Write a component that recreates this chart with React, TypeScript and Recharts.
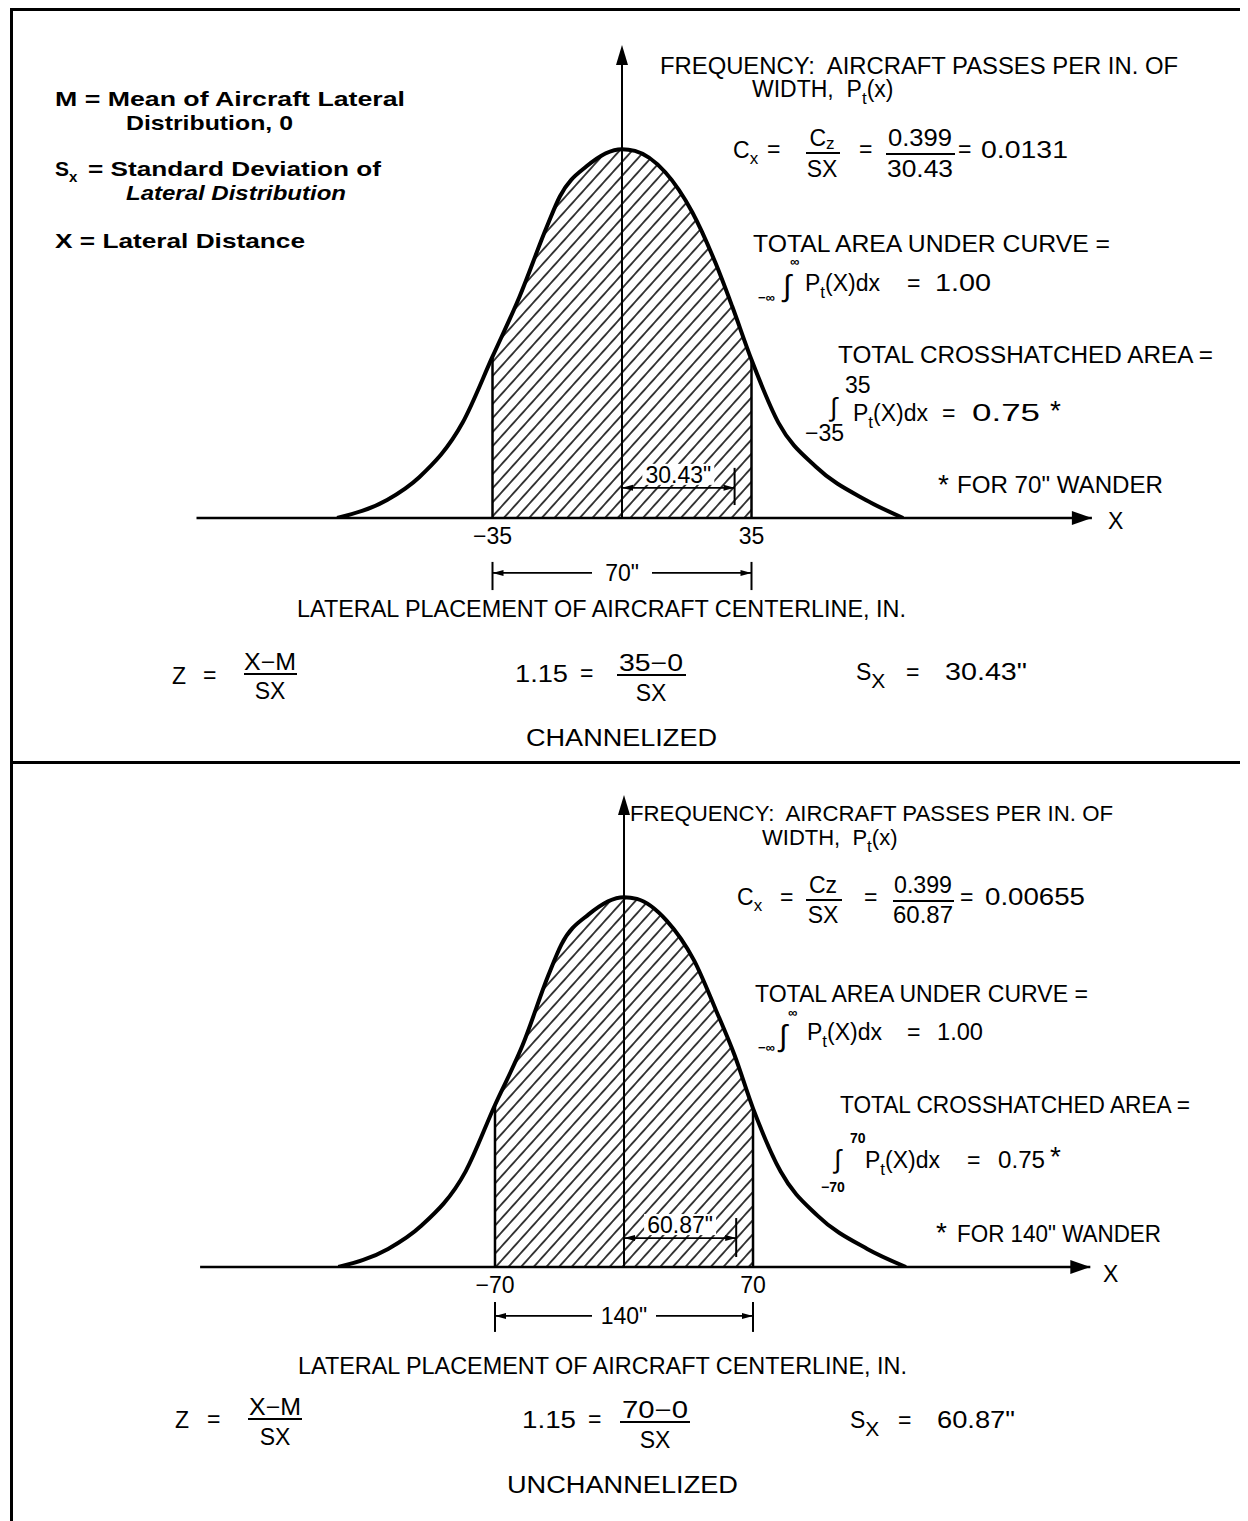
import React from 'react';
import {
  ComposedChart,
  Line,
  Area,
  XAxis,
  YAxis,
  ReferenceLine,
  ReferenceDot,
  Customized,
} from 'recharts';

// ---------- DATA ----------
// Channelized (top) – lateral distance (in.) and frequency P_t(x)
const chX = [-77, -63.5, -54.8, -43.1, -35, -27.7, -20.3, -16.8, -9.5, 0, 3.5, 11.7, 19, 25.2, 29.8, 35, 42.3, 52.4, 65.9, 76];
const chY = [0, 0.00064, 0.00145, 0.00338, 0.00573, 0.00786, 0.01035, 0.01142, 0.0125, 0.0131, 0.01304, 0.01228, 0.01086, 0.00908, 0.00751, 0.00562, 0.00338, 0.00182, 0.00064, 0];
const chTicks = [-35, 35];
const chLimits = [-35, 35];
const chSigma = 30.43;

// Unchannelized (bottom)
const unX = [-155, -128, -110, -86, -70, -55, -41, -34, -19, 0, 7, 23, 38, 50, 60, 70, 85, 105, 132, 153];
const unY = [0, 0.00032, 0.00073, 0.00169, 0.00287, 0.00393, 0.00517, 0.00571, 0.00625, 0.00655, 0.00652, 0.00614, 0.00543, 0.00454, 0.00375, 0.00281, 0.00169, 0.00091, 0.00032, 0];
const unTicks = [-70, 70];
const unLimits = [-70, 70];
const unSigma = 60.87;

const FONT = '"Liberation Sans", Arial, sans-serif';

const buildRows = (xs: number[], ys: number[], lo: number, hi: number) =>
  xs.map((x, i) => ({ x, y: ys[i], h: x >= lo && x <= hi ? ys[i] : null }));

const arrowUp = (p: any) => (
  <polygon points={`${p.cx},${p.cy} ${p.cx - 6},${p.cy + 20} ${p.cx + 6},${p.cy + 20}`} fill="#000" />
);
const arrowRight = (p: any) => (
  <polygon points={`${p.cx},${p.cy} ${p.cx - 20},${p.cy - 7} ${p.cx - 20},${p.cy + 7}`} fill="#000" />
);
const smallLeft = (p: any) => (
  <polygon points={`${p.cx},${p.cy} ${p.cx + 11},${p.cy - 3} ${p.cx + 11},${p.cy + 3}`} fill="#000" />
);
const smallRight = (p: any) => (
  <polygon points={`${p.cx},${p.cy} ${p.cx - 11},${p.cy - 3} ${p.cx - 11},${p.cy + 3}`} fill="#000" />
);
const boxedLabel = (text: string, w: number, above: boolean) => (p: any) => (
  <g>
    <rect x={p.cx - w / 2} y={above ? p.cy - 24 : p.cy - 12} width={w} height={above ? 21 : 24} fill="#fff" />
    <text
      x={p.cx}
      y={above ? p.cy - 5 : p.cy + 8}
      textAnchor="middle"
      fontFamily={FONT}
      fontSize={23}
      fill="#000"
    >
      {text}
    </text>
  </g>
);

type PanelProps = {
  xs: number[];
  ys: number[];
  limits: number[];
  ticks: number[];
  sigma: number;
  xDomain: [number, number];
  yMax: number;
  height: number;
  margin: { top: number; right: number; bottom: number; left: number };
  dimY: number;
  dimTick: [number, number];
  spanY: number;
  spanTick: [number, number];
  sigmaLabel: string;
  spanLabel: string;
  spanLabelW: number;
  annotations: React.ReactNode;
};

function Panel(props: PanelProps) {
  const { xs, ys, limits, ticks, sigma, xDomain, yMax, height, margin } = props;
  const [lo, hi] = limits;
  const rows = buildRows(xs, ys, lo, hi);
  const yLo = ys[xs.indexOf(lo)];
  const yHi = ys[xs.indexOf(hi)];
  return (
    <ComposedChart width={1240} height={height} data={rows} margin={margin}>
      <XAxis
        type="number"
        dataKey="x"
        domain={xDomain}
        ticks={ticks}
        interval={0}
        allowDataOverflow
        height={30}
        tickLine={false}
        tickSize={0}
        tickMargin={10}
        axisLine={{ stroke: '#000', strokeWidth: 2.5 }}
        tick={{ fill: '#000', fontSize: 23, fontFamily: FONT }}
        tickFormatter={(v: number) => (v < 0 ? `\u2212${Math.abs(v)}` : `${v}`)}
      />
      <YAxis type="number" domain={[0, yMax]} hide allowDataOverflow />
      <Area
        type="monotone"
        dataKey="h"
        stroke="none"
        fill="url(#hatch)"
        fillOpacity={1}
        isAnimationActive={false}
        connectNulls={false}
        dot={false}
        activeDot={false}
      />
      <Line
        type="monotone"
        dataKey="y"
        stroke="#000"
        strokeWidth={4}
        dot={false}
        activeDot={false}
        isAnimationActive={false}
      />
      {/* hatched region boundaries */}
      <ReferenceLine segment={[{ x: lo, y: 0 }, { x: lo, y: yLo }]} stroke="#000" strokeWidth={2.5} ifOverflow="visible" />
      <ReferenceLine segment={[{ x: hi, y: 0 }, { x: hi, y: yHi }]} stroke="#000" strokeWidth={2.5} ifOverflow="visible" />
      {/* vertical frequency axis */}
      <ReferenceLine segment={[{ x: 0, y: 0 }, { x: 0, y: yMax * 0.97 }]} stroke="#000" strokeWidth={2} ifOverflow="visible" />
      <ReferenceDot x={0} y={yMax} r={1} shape={arrowUp} ifOverflow="visible" />
      <ReferenceDot x={xDomain[1]} y={0} r={1} shape={arrowRight} ifOverflow="visible" />
      {/* sigma dimension */}
      <ReferenceLine segment={[{ x: 0, y: props.dimY }, { x: sigma, y: props.dimY }]} stroke="#000" strokeWidth={1.8} ifOverflow="visible" />
      <ReferenceLine segment={[{ x: sigma, y: props.dimTick[0] }, { x: sigma, y: props.dimTick[1] }]} stroke="#000" strokeWidth={2} ifOverflow="visible" />
      <ReferenceDot x={0} y={props.dimY} r={1} shape={smallLeft} ifOverflow="visible" />
      <ReferenceDot x={sigma} y={props.dimY} r={1} shape={smallRight} ifOverflow="visible" />
      <ReferenceDot x={sigma / 2} y={props.dimY} r={1} shape={boxedLabel(props.sigmaLabel, 72, true)} ifOverflow="visible" />
      {/* wander span dimension */}
      <ReferenceLine segment={[{ x: lo, y: props.spanY }, { x: hi, y: props.spanY }]} stroke="#000" strokeWidth={1.8} ifOverflow="visible" />
      <ReferenceLine segment={[{ x: lo, y: props.spanTick[0] }, { x: lo, y: props.spanTick[1] }]} stroke="#000" strokeWidth={2} ifOverflow="visible" />
      <ReferenceLine segment={[{ x: hi, y: props.spanTick[0] }, { x: hi, y: props.spanTick[1] }]} stroke="#000" strokeWidth={2} ifOverflow="visible" />
      <ReferenceDot x={lo} y={props.spanY} r={1} shape={smallLeft} ifOverflow="visible" />
      <ReferenceDot x={hi} y={props.spanY} r={1} shape={smallRight} ifOverflow="visible" />
      <ReferenceDot x={(lo + hi) / 2} y={props.spanY} r={1} shape={boxedLabel(props.spanLabel, props.spanLabelW, false)} ifOverflow="visible" />
      <Customized component={() => <g>{props.annotations}</g>} />
    </ComposedChart>
  );
}

const txt = { fontFamily: FONT, fill: '#000', style: { whiteSpace: 'pre' as const } };

function T(p: { x: number; y: number; fs?: number; len?: number; children: React.ReactNode; anchor?: string; bold?: boolean }) {
  return (
    <text
      x={p.x}
      y={p.y}
      fontSize={p.fs ?? 23}
      textAnchor={p.anchor as any}
      fontWeight={p.bold ? 700 : undefined}
      textLength={p.len}
      lengthAdjust={p.len ? 'spacingAndGlyphs' : undefined}
      {...txt}
    >
      {p.children}
    </text>
  );
}

function Frac(p: { cx: number; x1: number; x2: number; yNum: number; yLine: number; yDen: number; num: React.ReactNode; den: React.ReactNode; numLen?: number; denLen?: number }) {
  return (
    <g>
      <T x={p.cx} y={p.yNum} anchor="middle" len={p.numLen}>{p.num}</T>
      <line x1={p.x1} x2={p.x2} y1={p.yLine} y2={p.yLine} stroke="#000" strokeWidth={2} />
      <T x={p.cx} y={p.yDen} anchor="middle" len={p.denLen}>{p.den}</T>
    </g>
  );
}

const Pt = () => (
  <>
    P<tspan fontSize={17} dy={7}>t</tspan>
    <tspan dy={-7}>(X)dx</tspan>
  </>
);

const legendStyle = { fontFamily: FONT, fill: '#000', fontWeight: 700, fontSize: 21 } as const;

const topAnnotations = (
  <g transform="translate(-8,-8)">
    <text x={55} y={106} textLength={350} lengthAdjust="spacingAndGlyphs" {...legendStyle}>M = Mean of Aircraft Lateral</text>
    <text x={126} y={130} textLength={167} lengthAdjust="spacingAndGlyphs" {...legendStyle}>Distribution, 0</text>
    <text x={55} y={176} {...legendStyle}>S<tspan fontSize={15} dy={6}>x</tspan></text>
    <text x={88} y={176} textLength={293} lengthAdjust="spacingAndGlyphs" {...legendStyle}>= Standard Deviation of</text>
    <text x={126} y={200} textLength={220} lengthAdjust="spacingAndGlyphs" fontStyle="italic" {...legendStyle}>Lateral Distribution</text>
    <text x={55} y={248} textLength={250} lengthAdjust="spacingAndGlyphs" {...legendStyle}>X = Lateral Distance</text>

    <T x={660} y={74} len={518}>FREQUENCY:  AIRCRAFT PASSES PER IN. OF</T>
    <T x={752} y={97}>WIDTH,  P<tspan fontSize={17} dy={7}>t</tspan><tspan dy={-7}>(x)</tspan></T>

    <T x={733} y={158}>C<tspan fontSize={17} dy={6}>x</tspan></T>
    <T x={767} y={157}>=</T>
    <Frac cx={822} x1={806} x2={840} yNum={146} yLine={153} yDen={177} num={<>C<tspan fontSize={17} dy={3}>z</tspan></>} den="SX" />
    <T x={859} y={157}>=</T>
    <Frac cx={920} x1={886} x2={955} yNum={146} yLine={154} yDen={177} num="0.399" den="30.43" numLen={64} denLen={66} />
    <T x={958} y={157}>=</T>
    <T x={981} y={158} len={87}>0.0131</T>

    <T x={753} y={252} len={357}>TOTAL AREA UNDER CURVE =</T>
    <T x={783} y={296} fs={30}>∫</T>
    <T x={790} y={266} fs={13} bold>∞</T>
    <T x={758} y={302} fs={13} bold>−∞</T>
    <T x={805} y={291}><Pt /></T>
    <T x={907} y={291}>=</T>
    <T x={935} y={291} len={56}>1.00</T>

    <T x={838} y={363} len={375}>TOTAL CROSSHATCHED AREA =</T>
    <T x={845} y={393}>35</T>
    <T x={830} y={416} fs={26}>∫</T>
    <T x={805} y={441}>−35</T>
    <T x={853} y={421}><Pt /></T>
    <T x={942} y={421}>=</T>
    <T x={972} y={421} len={68}>0.75</T>
    <T x={1050} y={420} fs={28}>*</T>

    <T x={938} y={494} fs={28}>*</T>
    <T x={957} y={493} len={206}>FOR 70" WANDER</T>
    <T x={1108} y={529}>X</T>

    <T x={297} y={617} len={609}>LATERAL PLACEMENT OF AIRCRAFT CENTERLINE, IN.</T>

    <T x={172} y={684}>Z</T>
    <T x={203} y={683}>=</T>
    <Frac cx={270} x1={244} x2={297} yNum={670} yLine={674} yDen={699} num="X−M" den="SX" numLen={52} />
    <T x={515} y={682} len={53}>1.15</T>
    <T x={580} y={681}>=</T>
    <Frac cx={651} x1={617} x2={686} yNum={671} yLine={675} yDen={701} num="35−0" den="SX" numLen={64} />
    <T x={856} y={680}>S<tspan fontSize={21} dy={8}>X</tspan></T>
    <T x={906} y={680}>=</T>
    <T x={945} y={680} len={82}>30.43"</T>

    <T x={526} y={746} len={191}>CHANNELIZED</T>
  </g>
);

const bottomAnnotations = (
  <g transform="translate(-8,-762)">
    <T x={630} y={821} fs={22} len={483}>FREQUENCY:  AIRCRAFT PASSES PER IN. OF</T>
    <T x={762} y={845} fs={22}>WIDTH,  P<tspan fontSize={17} dy={7}>t</tspan><tspan dy={-7}>(x)</tspan></T>

    <T x={737} y={905}>C<tspan fontSize={17} dy={6}>x</tspan></T>
    <T x={780} y={905}>=</T>
    <Frac cx={823} x1={806} x2={842} yNum={893} yLine={900} yDen={923} num="Cz" den="SX" />
    <T x={864} y={905}>=</T>
    <Frac cx={923} x1={893} x2={954} yNum={893} yLine={901} yDen={923} num="0.399" den="60.87" numLen={58} denLen={60} />
    <T x={960} y={905}>=</T>
    <T x={985} y={905} len={100}>0.00655</T>

    <T x={755} y={1002} len={333}>TOTAL AREA UNDER CURVE =</T>
    <T x={779} y={1046} fs={30}>∫</T>
    <T x={788} y={1017} fs={13} bold>∞</T>
    <T x={758} y={1052} fs={13} bold>−∞</T>
    <T x={807} y={1040}><Pt /></T>
    <T x={907} y={1040}>=</T>
    <T x={937} y={1040} len={46}>1.00</T>

    <T x={840} y={1113} len={350}>TOTAL CROSSHATCHED AREA =</T>
    <T x={850} y={1143} fs={14} bold>70</T>
    <T x={834} y={1168} fs={26}>∫</T>
    <T x={821} y={1192} fs={14} bold>−70</T>
    <T x={865} y={1168}><Pt /></T>
    <T x={967} y={1168}>=</T>
    <T x={998} y={1168} len={47}>0.75</T>
    <T x={1050} y={1166} fs={28}>*</T>

    <T x={936} y={1242} fs={28}>*</T>
    <T x={957} y={1242} len={204}>FOR 140" WANDER</T>
    <T x={1103} y={1282}>X</T>

    <T x={298} y={1374} len={609}>LATERAL PLACEMENT OF AIRCRAFT CENTERLINE, IN.</T>

    <T x={175} y={1428}>Z</T>
    <T x={207} y={1427}>=</T>
    <Frac cx={275} x1={248} x2={302} yNum={1415} yLine={1419} yDen={1445} num="X−M" den="SX" numLen={52} />
    <T x={522} y={1428} len={54}>1.15</T>
    <T x={588} y={1427}>=</T>
    <Frac cx={655} x1={620} x2={690} yNum={1418} yLine={1422} yDen={1448} num="70−0" den="SX" numLen={66} />
    <T x={850} y={1428}>S<tspan fontSize={21} dy={8}>X</tspan></T>
    <T x={898} y={1428}>=</T>
    <T x={937} y={1428} len={78}>60.87"</T>

    <T x={507} y={1493} len={231}>UNCHANNELIZED</T>
  </g>
);

export default function App() {
  return (
    <div style={{ position: 'relative', width: 1240, height: 1513, background: '#fff' }}>
      <svg width={0} height={0} style={{ position: 'absolute' }}>
        <defs>
          <pattern id="hatch" patternUnits="userSpaceOnUse" width={9.4} height={9.4} patternTransform="rotate(42)">
            <line x1={4.7} y1={-1} x2={4.7} y2={10.4} stroke="#000" strokeWidth={1.5} />
          </pattern>
        </defs>
      </svg>
      <div style={{ position: 'absolute', left: 0, top: 0 }}>
        <Panel
          xs={chX}
          ys={chY}
          limits={chLimits}
          ticks={chTicks}
          sigma={chSigma}
          xDomain={[-115, 127]}
          yMax={0.0168}
          height={754}
          margin={{ top: 37, right: 156.1, bottom: 214, left: 188.5 }}
          dimY={0.00107}
          dimTick={[0.00178, 0.00046]}
          spanY={-0.00195}
          spanTick={[-0.00156, -0.00256]}
          sigmaLabel={'30.43"'}
          spanLabel={'70"'}
          spanLabelW={60}
          annotations={topAnnotations}
        />
      </div>
      <div style={{ position: 'absolute', left: 0, top: 754 }}>
        <Panel
          xs={unX}
          ys={unY}
          limits={unLimits}
          ticks={unTicks}
          sigma={unSigma}
          xDomain={[-230, 253]}
          yMax={0.00836}
          height={759}
          margin={{ top: 33, right: 157.7, bottom: 224, left: 192.1 }}
          dimY={0.000513}
          dimTick={[0.000867, 0.000177]}
          spanY={-0.000867}
          spanTick={[-0.00062, -0.00115]}
          sigmaLabel={'60.87"'}
          spanLabel={'140"'}
          spanLabelW={64}
          annotations={bottomAnnotations}
        />
      </div>
      <div style={{ position: 'absolute', left: 2, top: 0, width: 3, height: 1513, background: '#000' }} />
      <div style={{ position: 'absolute', left: 2, top: 0, width: 1238, height: 3, background: '#000' }} />
      <div style={{ position: 'absolute', left: 2, top: 753, width: 1238, height: 3, background: '#000' }} />
    </div>
  );
}
